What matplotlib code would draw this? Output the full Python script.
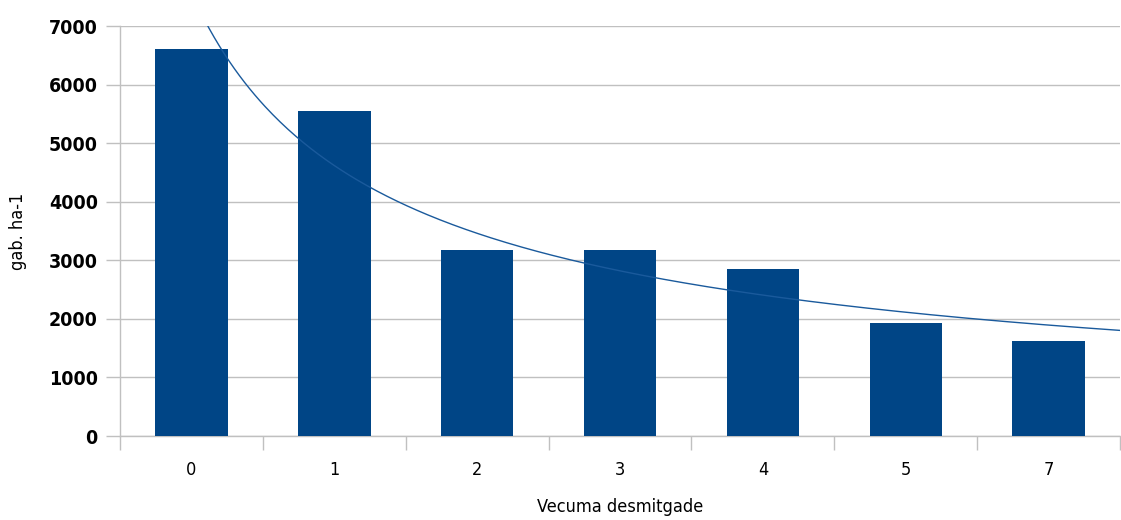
import matplotlib
matplotlib.use('Agg')
import matplotlib.pyplot as plt
import numpy as np
from matplotlib.ticker import MultipleLocator, FixedLocator, NullFormatter

categories = ['0', '1', '2', '3', '4', '5', '7']
yields = [6600, 5550, 3170, 3170, 2850, 1930, 1620]

bar_color = '#004586'
grid_color = '#c0c0c0'

plt.rcParams['font.family'] = ['DejaVu Sans']
plt.rcParams['font.stretch'] = 'condensed'

fig = plt.figure(figsize=(11.21, 5.2), dpi=100)
ax = fig.add_axes([120 / 1121, 84 / 520, 1000 / 1121, 410 / 520])

pos = np.arange(len(categories))
ax.bar(pos, yields, width=0.507, color=bar_color, zorder=3)

# power trendline (y = c * x^p, x = 1..n) fitted to the bars, like the spreadsheet does
idx = pos + 1
p, lnc = np.polyfit(np.log(idx), np.log(yields), 1)
xs = np.linspace(0.5, 7.6, 400)
ax.plot(xs - 1, np.exp(lnc) * xs ** p, color='#1a5a9c', lw=1.0, zorder=4)

ax.set_xlim(-0.5, len(categories) - 0.5)
ax.set_ylim(0, 7000)
ax.yaxis.set_major_locator(MultipleLocator(1000))
ax.grid(axis='y', color=grid_color, lw=1, zorder=0)

ax.set_xticks(pos)
ax.set_xticklabels(categories, fontsize=13)
ax.tick_params(axis='x', which='major', length=0, pad=18)
ax.xaxis.set_minor_locator(FixedLocator(np.arange(-0.5, len(categories), 1.0)))
ax.xaxis.set_minor_formatter(NullFormatter())
ax.tick_params(axis='x', which='minor', length=10, color=grid_color, width=1)
ax.tick_params(axis='y', length=10, color=grid_color, width=1, pad=6)
for lab in ax.get_yticklabels():
    lab.set_fontweight('bold')
    lab.set_fontsize(14)

for side in ['top', 'right']:
    ax.spines[side].set_visible(False)
for side in ['left', 'bottom']:
    ax.spines[side].set_color(grid_color)
    ax.spines[side].set_linewidth(1)

ax.set_ylabel('gab. ha-1', fontsize=13, labelpad=16)
ax.set_xlabel('Vecuma desmitgade', fontsize=13, labelpad=14)

fig.savefig('out.png', dpi=100)
